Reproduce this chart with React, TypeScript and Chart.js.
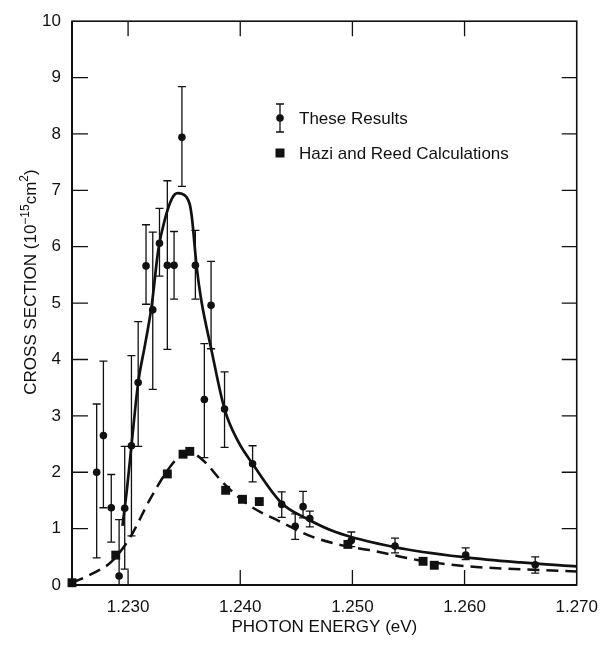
import React, { useEffect, useRef } from "react";
import Chart from "chart.js/auto";

// ---- Data ----
// "These Results": photon energy (eV), cross section, error bar low/high
const resX = [1.2272, 1.2278, 1.2285, 1.2292, 1.2297, 1.2303, 1.2309, 1.2316, 1.2322, 1.2328, 1.2335, 1.2341, 1.2348, 1.236, 1.2368, 1.2374, 1.2386, 1.2411, 1.2437, 1.2449, 1.2456, 1.2462, 1.2499, 1.2538, 1.2601, 1.2663];
const resY = [2.0, 2.65, 1.37, 0.16, 1.36, 2.47, 3.59, 5.66, 4.88, 6.06, 5.67, 5.67, 7.94, 5.67, 3.29, 4.96, 3.12, 2.15, 1.43, 1.04, 1.39, 1.18, 0.79, 0.69, 0.53, 0.36];
const resLow = [0.48, 1.37, 0.76, 0.0, 0.28, 0.87, 2.46, 4.98, 3.47, 5.48, 4.18, 5.07, 7.07, 5.07, 2.26, 4.19, 2.44, 1.83, 1.2, 0.81, 1.19, 1.03, 0.68, 0.57, 0.45, 0.21];
const resHigh = [3.21, 3.97, 1.96, 1.16, 2.46, 4.07, 4.67, 6.39, 6.26, 6.68, 7.17, 6.27, 8.84, 6.29, 4.28, 5.74, 3.78, 2.47, 1.65, 1.26, 1.66, 1.31, 0.94, 0.83, 0.66, 0.5];

// "Hazi and Reed Calculations"
const calcX = [1.225, 1.2289, 1.2335, 1.2349, 1.2355, 1.2387, 1.2402, 1.2417, 1.2496, 1.2563, 1.2573];
const calcY = [0.04, 0.53, 1.97, 2.32, 2.37, 1.68, 1.52, 1.48, 0.72, 0.42, 0.35];

// Solid fitted curve
const fitX = [1.2295, 1.2299, 1.2303, 1.2309, 1.2315, 1.2321, 1.2327, 1.2333, 1.2339, 1.2344, 1.2348, 1.2352, 1.2355, 1.2357, 1.2361, 1.2365, 1.2374, 1.2386, 1.2398, 1.2411, 1.2437, 1.2459, 1.2485, 1.2538, 1.2601, 1.265, 1.27];
const fitY = [1.05, 1.7, 2.47, 3.59, 4.25, 4.95, 5.95, 6.5, 6.85, 6.95, 6.94, 6.88, 6.75, 6.5, 5.67, 5.08, 4.2, 3.12, 2.55, 2.15, 1.45, 1.18, 0.94, 0.67, 0.49, 0.4, 0.33];

// Dashed calculated curve
const dashX = [1.225, 1.2268, 1.2285, 1.2302, 1.2319, 1.2333, 1.2343, 1.235, 1.2355, 1.2362, 1.237, 1.2383, 1.2406, 1.2436, 1.2465, 1.2494, 1.2515, 1.2559, 1.2603, 1.265, 1.27];
const dashY = [0.04, 0.2, 0.41, 0.85, 1.5, 1.97, 2.23, 2.32, 2.35, 2.29, 2.15, 1.85, 1.44, 1.12, 0.85, 0.69, 0.62, 0.44, 0.33, 0.28, 0.24];

// Axis ticks
const xTicks = [1.23, 1.24, 1.25, 1.26, 1.27];
const yTicks = [0, 1, 2, 3, 4, 5, 6, 7, 8, 9, 10];

const legendLabels = ["These Results", "Hazi and Reed Calculations"];
const xTitle = "PHOTON ENERGY (eV)";

const FONT = "'Liberation Sans', Arial, Helvetica, sans-serif";
const INK = "#111";

const decorPlugin = {
  id: "decor",
  beforeDatasetsDraw(chart: any) {
    const { ctx, scales } = chart;
    const x = scales.x;
    const y = scales.y;
    ctx.save();
    ctx.strokeStyle = INK;
    ctx.lineWidth = 1.3;
    for (let i = 0; i < resX.length; i++) {
      const px = x.getPixelForValue(resX[i]);
      const lo = y.getPixelForValue(resLow[i]);
      const hi = y.getPixelForValue(resHigh[i]);
      ctx.beginPath();
      ctx.moveTo(px, lo);
      ctx.lineTo(px, hi);
      ctx.moveTo(px - 4, hi);
      ctx.lineTo(px + 4, hi);
      if (resLow[i] > 0) {
        ctx.moveTo(px - 4, lo);
        ctx.lineTo(px + 4, lo);
      }
      ctx.stroke();
    }
    ctx.restore();
  },
  afterDraw(chart: any) {
    const { ctx, chartArea, scales } = chart;
    const x = scales.x;
    const y = scales.y;
    const { left, right, top, bottom } = chartArea;
    ctx.save();
    ctx.strokeStyle = INK;
    // frame
    ctx.lineWidth = 1.6;
    ctx.strokeRect(left, top, right - left, bottom - top);
    ctx.lineWidth = 2;
    ctx.beginPath();
    ctx.moveTo(left, top);
    ctx.lineTo(left, bottom);
    ctx.lineTo(right, bottom);
    ctx.stroke();
    // inward ticks
    ctx.lineWidth = 1.3;
    const tl = 15;
    ctx.beginPath();
    for (const v of xTicks) {
      const px = x.getPixelForValue(v);
      if (px >= right - 1) continue;
      ctx.moveTo(px, bottom);
      ctx.lineTo(px, bottom - tl);
      ctx.moveTo(px, top);
      ctx.lineTo(px, top + tl);
    }
    for (const v of yTicks) {
      if (v === 0 || v === 10) continue;
      const py = y.getPixelForValue(v);
      ctx.moveTo(left, py);
      ctx.lineTo(left + tl + 1, py);
      ctx.moveTo(right, py);
      ctx.lineTo(right - tl, py);
    }
    ctx.stroke();

    // legend
    const lx = 280;
    const ly1 = 118;
    const ly2 = 153;
    ctx.fillStyle = INK;
    ctx.beginPath();
    ctx.moveTo(lx, ly1 - 14);
    ctx.lineTo(lx, ly1 + 14);
    ctx.moveTo(lx - 4, ly1 - 14);
    ctx.lineTo(lx + 4, ly1 - 14);
    ctx.moveTo(lx - 4, ly1 + 14);
    ctx.lineTo(lx + 4, ly1 + 14);
    ctx.stroke();
    ctx.beginPath();
    ctx.arc(lx, ly1, 3.8, 0, Math.PI * 2);
    ctx.fill();
    ctx.fillRect(lx - 4.5, ly2 - 4.5, 9, 9);
    ctx.font = `17px ${FONT}`;
    ctx.textAlign = "left";
    ctx.textBaseline = "middle";
    ctx.fillText(legendLabels[0], 299, ly1 + 1);
    ctx.fillText(legendLabels[1], 299, ly2 + 1);

    // y-axis title with superscripts
    const segs = [
      { t: "CROSS SECTION (10", size: 17, rise: 0 },
      { t: "\u221215", size: 12, rise: 7 },
      { t: "cm", size: 17, rise: 0 },
      { t: "2", size: 12, rise: 8 },
      { t: ")", size: 17, rise: 0 },
    ];
    let total = 0;
    const widths: number[] = [];
    for (const s of segs) {
      ctx.font = `${s.size}px ${FONT}`;
      const w = ctx.measureText(s.t).width;
      widths.push(w);
      total += w;
    }
    ctx.translate(36, 282);
    ctx.rotate(-Math.PI / 2);
    ctx.textBaseline = "alphabetic";
    let cx = -total / 2;
    segs.forEach((s, i) => {
      ctx.font = `${s.size}px ${FONT}`;
      ctx.fillText(s.t, cx, -s.rise);
      cx += widths[i];
    });
    ctx.restore();
  },
};

export default function App() {
  const ref = useRef<HTMLCanvasElement | null>(null);
  useEffect(() => {
    document.body.style.margin = "0";
    document.body.style.overflow = "hidden";
    const canvas = ref.current;
    if (!canvas) return;
    const chart = new Chart(canvas, {
      type: "scatter",
      data: {
        datasets: [
          {
            type: "line",
            label: "fit",
            data: fitX.map((v, i) => ({ x: v, y: fitY[i] })),
            borderColor: INK,
            borderWidth: 2.7,
            pointRadius: 0,
            cubicInterpolationMode: "monotone",
            fill: false,
          },
          {
            type: "line",
            label: "calc curve",
            data: dashX.map((v, i) => ({ x: v, y: dashY[i] })),
            borderColor: INK,
            borderWidth: 2.5,
            borderDash: [12, 7],
            pointRadius: 0,
            cubicInterpolationMode: "monotone",
            fill: false,
          },
          {
            label: legendLabels[1],
            data: calcX.map((v, i) => ({ x: v, y: calcY[i] })),
            pointStyle: "rect",
            pointRadius: 6.3,
            backgroundColor: INK,
            borderColor: INK,
            borderWidth: 0,
            clip: false,
          },
          {
            label: legendLabels[0],
            data: resX.map((v, i) => ({ x: v, y: resY[i] })),
            pointStyle: "circle",
            pointRadius: 3.8,
            backgroundColor: INK,
            borderColor: INK,
            borderWidth: 0,
          },
        ],
      } as any,
      options: {
        responsive: false,
        animation: false,
        layout: { padding: { left: 0, right: 26, top: 18, bottom: 0 } },
        plugins: { legend: { display: false }, tooltip: { enabled: false } },
        scales: {
          x: {
            type: "linear",
            min: 1.225,
            max: 1.27,
            afterBuildTicks: (s: any) => {
              s.ticks = xTicks.map((v) => ({ value: v }));
            },
            afterFit: (s: any) => {
              s.height = 60;
            },
            ticks: {
              autoSkip: false,
              maxRotation: 0,
              padding: 12,
              color: INK,
              font: { family: FONT, size: 17 },
              callback: (v: any) => Number(v).toFixed(3),
            },
            grid: { display: false, drawTicks: false },
            border: { display: false },
            title: {
              display: true,
              text: xTitle,
              color: INK,
              font: { family: FONT, size: 17 },
              padding: { top: 0, bottom: 7 },
            },
          },
          y: {
            type: "linear",
            min: 0,
            max: 10,
            afterBuildTicks: (s: any) => {
              s.ticks = yTicks.map((v) => ({ value: v }));
            },
            afterFit: (s: any) => {
              s.width = 72;
            },
            ticks: {
              padding: 11,
              color: INK,
              font: { family: FONT, size: 17 },
            },
            grid: { display: false, drawTicks: false },
            border: { display: false },
          },
        },
      } as any,
      plugins: [decorPlugin],
    });
    return () => chart.destroy();
  }, []);
  return (
    <div style={{ width: 610, height: 645 }}>
      <canvas ref={ref} width={610} height={645} style={{ display: "block" }} />
    </div>
  );
}
